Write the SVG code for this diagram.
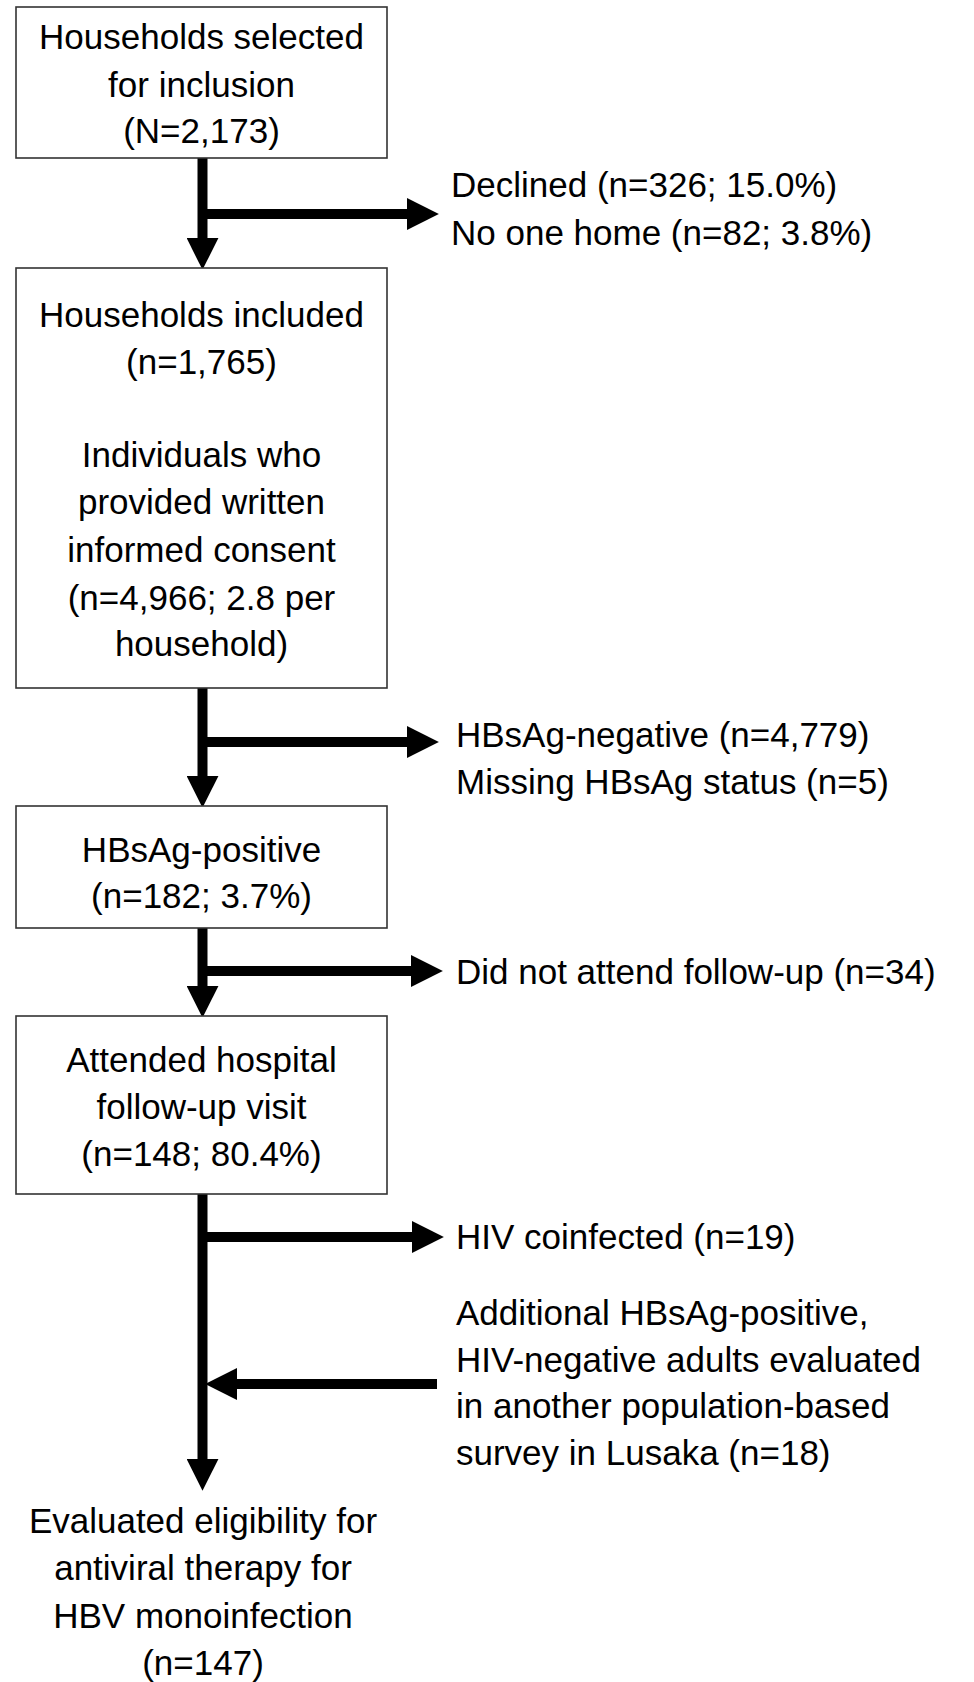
<svg xmlns="http://www.w3.org/2000/svg" width="974" height="1682" viewBox="0 0 974 1682">
<defs>
<style>
.box{fill:#fff;stroke:#333;stroke-width:1.6}
.t{font-family:"Liberation Sans",Arial,sans-serif;font-size:35px;fill:#000}
.c{text-anchor:middle}
.ln{stroke:#000;stroke-width:10;fill:none}
</style>
<marker id="ah" markerUnits="userSpaceOnUse" markerWidth="32" markerHeight="32" refX="2" refY="15" orient="auto" viewBox="0 0 30 30">
<path d="M0,0 L30,15 L0,30 z" fill="#000"/>
</marker>
</defs>
<rect width="974" height="1682" fill="#fff"/>
<g id="connectors">
<line class="ln" x1="202.5" y1="158" x2="202.5" y2="240" marker-end="url(#ah)"/>
<line class="ln" x1="202.5" y1="214" x2="409" y2="214" marker-end="url(#ah)"/>
<line class="ln" x1="202.5" y1="688" x2="202.5" y2="778" marker-end="url(#ah)"/>
<line class="ln" x1="202.5" y1="742" x2="409" y2="742" marker-end="url(#ah)"/>
<line class="ln" x1="202.5" y1="928" x2="202.5" y2="988" marker-end="url(#ah)"/>
<line class="ln" x1="202.5" y1="971" x2="413" y2="971" marker-end="url(#ah)"/>
<line class="ln" x1="202.5" y1="1194" x2="202.5" y2="1461" marker-end="url(#ah)"/>
<line class="ln" x1="202.5" y1="1237" x2="414" y2="1237" marker-end="url(#ah)"/>
<line class="ln" x1="437" y1="1384" x2="235" y2="1384" marker-end="url(#ah)"/>
</g>
<g id="n1">
<rect class="box" x="16" y="7" width="371" height="151"/>
<text class="t c" x="201.5" y="49">Households selected</text>
<text class="t c" x="201.5" y="97">for inclusion</text>
<text class="t c" x="201.5" y="143">(N=2,173)</text>
</g>
<g id="x1">
<text class="t" x="451" y="197">Declined (n=326; 15.0%)</text>
<text class="t" x="451" y="245">No one home (n=82; 3.8%)</text>
</g>
<g id="n2">
<rect class="box" x="16" y="268" width="371" height="420"/>
<text class="t c" x="201.5" y="327">Households included</text>
<text class="t c" x="201.5" y="374">(n=1,765)</text>
<text class="t c" x="201.5" y="467">Individuals who</text>
<text class="t c" x="201.5" y="514">provided written</text>
<text class="t c" x="201.5" y="562">informed consent</text>
<text class="t c" x="201.5" y="610">(n=4,966; 2.8 per</text>
<text class="t c" x="201.5" y="656">household)</text>
</g>
<g id="x2">
<text class="t" x="456" y="747">HBsAg-negative (n=4,779)</text>
<text class="t" x="456" y="794">Missing HBsAg status (n=5)</text>
</g>
<g id="n3">
<rect class="box" x="16" y="806" width="371" height="122"/>
<text class="t c" x="201.5" y="862">HBsAg-positive</text>
<text class="t c" x="201.5" y="908">(n=182; 3.7%)</text>
</g>
<g id="x3">
<text class="t" x="456" y="984">Did not attend follow-up (n=34)</text>
</g>
<g id="n4">
<rect class="box" x="16" y="1016" width="371" height="178"/>
<text class="t c" x="201.5" y="1072">Attended hospital</text>
<text class="t c" x="201.5" y="1119">follow-up visit</text>
<text class="t c" x="201.5" y="1166">(n=148; 80.4%)</text>
</g>
<g id="x4">
<text class="t" x="456" y="1249">HIV coinfected (n=19)</text>
</g>
<g id="x5">
<text class="t" x="456" y="1325">Additional HBsAg-positive,</text>
<text class="t" x="456" y="1372">HIV-negative adults evaluated</text>
<text class="t" x="456" y="1418">in another population-based</text>
<text class="t" x="456" y="1465">survey in Lusaka (n=18)</text>
</g>
<g id="n5">
<text class="t c" x="203" y="1533">Evaluated eligibility for</text>
<text class="t c" x="203" y="1580">antiviral therapy for</text>
<text class="t c" x="203" y="1628">HBV monoinfection</text>
<text class="t c" x="203" y="1675">(n=147)</text>
</g>
</svg>
